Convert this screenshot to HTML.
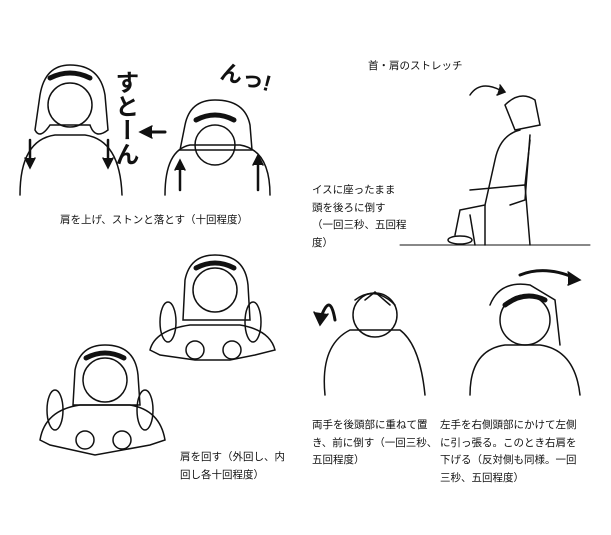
<!DOCTYPE html>
<html><head><meta charset="utf-8"><style>
html,body{margin:0;padding:0;background:#fff;}
#c{position:relative;width:611px;height:535px;overflow:hidden;font-family:"Liberation Sans","Noto Sans CJK JP",sans-serif;color:#111;}
.t{position:absolute;font-size:10.5px;line-height:17.5px;white-space:nowrap;}
svg{position:absolute;left:0;top:0;}
</style></head><body><div id="c">
<svg width="611" height="535" viewBox="0 0 611 535" fill="none" stroke="#111" stroke-width="1.5" stroke-linecap="round">
<path d="M40 95 Q45 65 70 65 Q100 65 105 95 L108 130 Q95 140 90 125 L50 125 Q40 140 35 130 Z"/>
<circle cx="70" cy="105" r="22"/>
<path d="M50 78 Q70 68 90 78" stroke-width="5"/>
<path d="M20 195 Q20 140 55 135 L85 135 Q120 140 122 195"/>
<path d="M30 140 L30 165" stroke-width="2.5"/><path d="M25 158 L30 168 L35 158" fill="#111"/>
<path d="M108 140 L108 165" stroke-width="2.5"/><path d="M103 158 L108 168 L113 158" fill="#111"/>
<path d="M145 132 L165 132" stroke-width="3"/><path d="M152 126 L140 132 L152 138" fill="#111"/>
<path d="M185 125 Q190 100 215 100 Q245 100 250 125 L252 150 L180 150 Z"/>
<circle cx="215" cy="145" r="20"/>
<path d="M196 120 Q215 110 234 120" stroke-width="5"/>
<path d="M165 195 Q165 150 190 145 L240 145 Q270 150 270 195"/>
<path d="M180 190 L180 165" stroke-width="2.5"/><path d="M175 170 L180 160 L185 170" fill="#111"/>
<path d="M258 190 L258 160" stroke-width="2.5"/><path d="M253 165 L258 155 L263 165" fill="#111"/>
<path d="M185 280 Q190 255 215 255 Q245 255 248 285 L250 320 L183 320 Z"/>
<circle cx="215" cy="290" r="22"/>
<path d="M196 268 Q215 258 234 268" stroke-width="5"/>
<path d="M150 350 Q155 330 190 325 L240 325 Q270 330 275 350 L255 355 L230 360 L195 360 L160 355 Z"/>
<ellipse cx="168" cy="322" rx="8" ry="20"/><ellipse cx="253" cy="322" rx="8" ry="20"/>
<circle cx="195" cy="350" r="9"/><circle cx="232" cy="350" r="9"/>
<path d="M75 370 Q80 345 105 345 Q135 345 138 375 L140 405 L73 405 Z"/>
<circle cx="105" cy="380" r="22"/>
<path d="M86 358 Q105 348 124 358" stroke-width="5"/>
<path d="M40 440 Q45 410 80 405 L130 405 Q160 410 165 440 L150 445 L95 455 L50 445 Z"/>
<ellipse cx="55" cy="410" rx="8" ry="20"/><ellipse cx="145" cy="410" rx="8" ry="20"/>
<circle cx="85" cy="440" r="9"/><circle cx="122" cy="440" r="9"/>
<path d="M500 90 Q480 80 470 95" /><path d="M497 95 L505 92 L500 85" fill="#111"/>
<path d="M505 105 Q520 90 535 100 L540 125 L515 130 Z"/>
<path d="M520 130 Q500 135 495 160 L485 205 L460 210 L455 235"/>
<path d="M530 135 L525 200 L510 205"/>
<path d="M470 215 L475 245"/><ellipse cx="460" cy="240" rx="12" ry="4"/>
<path d="M470 190 L525 185 L530 245 M485 205 L485 245 M525 185 L530 140"/>
<path d="M400 245 L590 245" stroke-width="1"/>
<path d="M335 320 Q330 290 320 320" stroke-width="3"/><path d="M314 312 L320 325 L328 314" fill="#111"/>
<circle cx="375" cy="315" r="22"/>
<path d="M355 300 Q375 285 395 305" stroke-width="1.5"/>
<path d="M325 395 Q320 345 350 330 L400 330 Q420 345 425 395"/>
<path d="M365 300 L375 292 L390 305"/>
<path d="M520 275 Q545 265 575 278" stroke-width="3"/><path d="M568 272 L580 280 L568 285" fill="#111"/>
<circle cx="525" cy="320" r="25"/>
<path d="M505 305 Q525 290 545 300" stroke-width="5"/>
<path d="M490 305 Q500 280 530 285 L555 300 L560 345"/>
<path d="M470 395 Q470 350 505 345 L540 345 Q575 350 580 395"/>
</svg>
<div class="t" style="left:110px;top:70px;font-size:24px;line-height:28px;font-weight:bold;writing-mode:vertical-rl;">すとーん</div>
<div class="t" style="left:220px;top:65px;font-size:22px;line-height:26px;font-weight:bold;transform:rotate(15deg);">んっ!</div>
<div class="t" style="left:60px;top:212px;">肩を上げ、ストンと落とす（十回程度）</div>
<div class="t" style="left:368px;top:58px;">首・肩のストレッチ</div>
<div class="t" style="left:312px;top:182px;">イスに座ったまま<br>頭を後ろに倒す<br>（一回三秒、五回程<br>度）</div>
<div class="t" style="left:180px;top:449px;">肩を回す（外回し、内<br>回し各十回程度）</div>
<div class="t" style="left:312px;top:417px;">両手を後頭部に重ねて置<br>き、前に倒す（一回三秒、<br>五回程度）</div>
<div class="t" style="left:440px;top:417px;">左手を右側頭部にかけて左側<br>に引っ張る。このとき右肩を<br>下げる（反対側も同様。一回<br>三秒、五回程度）</div>
</div></body></html>
